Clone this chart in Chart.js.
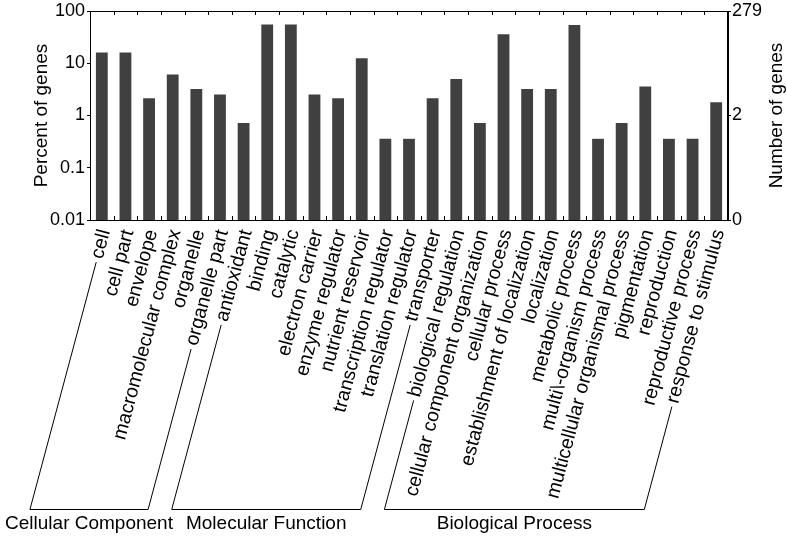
<!DOCTYPE html>
<html>
<head>
<meta charset="utf-8">
<script src="https://cdn.jsdelivr.net/npm/chart.js@4/dist/chart.umd.min.js"></script>
<style>
  html, body { margin: 0; padding: 0; background: #fff; }
</style>
</head>
<body>
<canvas id="goChart" width="787" height="539"></canvas>
<script>
// GO categories, in plot order
const categories = [
    'cell', 'cell part', 'envelope', 'macromolecular complex', 'organelle', 'organelle part',
    'antioxidant', 'binding', 'catalytic', 'electron carrier', 'enzyme regulator',
    'nutrient reservoir', 'transcription regulator', 'translation regulator', 'transporter',
    'biological regulation', 'cellular component organization', 'cellular process',
    'establishment of localization', 'localization', 'metabolic process',
    'multi\\-organism process', 'multicellular organismal process', 'pigmentation',
    'reproduction', 'reproductive process', 'response to stimulus'
];

// percent of genes
const percentGenes = [
    16.1, 16.1, 2.15, 6.09, 3.23, 2.51,
    0.717, 55.2, 55.2, 2.51, 2.15, 12.5, 0.358, 0.358, 2.15,
    5.02, 0.717, 35.8, 3.23, 3.23, 53.8, 0.358, 0.717, 3.58, 0.358, 0.358, 1.79
];

const leftTicks = [0.01, 0.1, 1, 10, 100];
const leftTickLabels = ['0.01', '0.1', '1', '10', '100'];
const rightTicks = [0.01, 1, 100];
const rightTickLabels = ['0', '2', '279'];

// ontology groups: first and last category index of each
const groupNames = ['Cellular Component', 'Molecular Function', 'Biological Process'];
const groupFirst = [0, 6, 15];
const groupLast = [5, 14, 26];

const FONT = "'Liberation Sans', Arial, sans-serif";
const LABEL_ANGLE = 75;

// frame, inside ticks, right title and group brackets
const decorPlugin = {
    id: 'decor',
    afterDraw(chart) {
        const ctx = chart.ctx;
        const area = chart.chartArea;
        const xs = chart.scales.x;
        ctx.save();
        ctx.strokeStyle = '#000';
        ctx.fillStyle = '#000';
        ctx.lineWidth = 1;

        // box round the plot
        ctx.strokeRect(Math.round(area.left) + 0.5, Math.round(area.top) + 0.5,
            Math.round(area.right - area.left) - 1, Math.round(area.bottom - area.top));

        // small ticks between categories, pointing in
        ctx.beginPath();
        for (let i = 1; i < categories.length; i++) {
            const bx = Math.round((xs.getPixelForTick(i - 1) + xs.getPixelForTick(i)) / 2) + 0.5;
            ctx.moveTo(bx, area.top);
            ctx.lineTo(bx, area.top + 4);
            ctx.moveTo(bx, area.bottom);
            ctx.lineTo(bx, area.bottom - 4);
        }
        ctx.stroke();

        // right axis title, reading upward
        ctx.font = '19px ' + FONT;
        ctx.textAlign = 'center';
        ctx.textBaseline = 'middle';
        ctx.save();
        ctx.translate(777, (area.top + area.bottom) / 2);
        ctx.rotate(-Math.PI / 2);
        ctx.fillText('Number of genes', 0, 0);
        ctx.restore();

        // brackets: continue the first/last label of each group down to a common line
        const items = xs.getLabelItems();
        const bracketY = chart.height - 29.5;
        function lineFrom(i) {
            const it = items[i];
            const [tx, ty] = it.options.translation;
            const r = it.options.rotation;
            ctx.font = it.font.string;
            const w = ctx.measureText(it.label).width + 4;
            const cos = Math.cos(r), sin = Math.sin(r);
            const x0 = tx + (-w) * cos - it.textOffset * sin;
            const y0 = ty + (-w) * sin + it.textOffset * cos;
            // direction pointing back along the text (down-left)
            const dx = -cos, dy = -sin;
            const t = (bracketY - y0) / dy;
            return [x0, y0, x0 + dx * t];
        }
        ctx.beginPath();
        const mids = [];
        groupNames.forEach((name, g) => {
            const a = lineFrom(groupFirst[g]);
            const b = lineFrom(groupLast[g]);
            ctx.moveTo(a[0], a[1]);
            ctx.lineTo(a[2], bracketY);
            ctx.lineTo(b[2], bracketY);
            ctx.lineTo(b[0], b[1]);
            mids.push((a[2] + b[2]) / 2);
        });
        ctx.stroke();
        ctx.font = '19px ' + FONT;
        ctx.textAlign = 'center';
        ctx.textBaseline = 'middle';
        groupNames.forEach((name, g) => ctx.fillText(name, mids[g], chart.height - 15));
        ctx.restore();
    }
};

const ctx = document.getElementById('goChart').getContext('2d');
const goChart = new Chart(ctx, {
    type: 'bar',
    data: {
        labels: categories,
        datasets: [{
            label: 'Percent of genes',
            data: percentGenes,
            backgroundColor: '#404040',
            borderWidth: 0,
            barPercentage: 0.5,
            categoryPercentage: 1.0,
            yAxisID: 'y'
        }]
    },
    options: {
        responsive: false,
        animation: false,
        devicePixelRatio: 1,
        layout: { padding: 0 },
        scales: {
            x: {
                type: 'category',
                grid: { display: false },
                border: { display: false },
                ticks: {
                    autoSkip: false,
                    minRotation: LABEL_ANGLE,
                    maxRotation: LABEL_ANGLE,
                    padding: -1,
                    labelOffset: 3,
                    color: '#000',
                    font: { family: FONT, size: 19.5 }
                },
                afterFit: (scale) => { scale.height = 319; }
            },
            y: {
                type: 'logarithmic',
                position: 'left',
                min: 0.01,
                max: 100,
                afterBuildTicks: (scale) => { scale.ticks = leftTicks.map(v => ({ value: v })); },
                grid: { drawOnChartArea: false, tickLength: 3, color: '#000' },
                border: { display: true, color: '#000' },
                ticks: {
                    padding: 2,
                    color: '#000',
                    font: { family: FONT, size: 18, lineHeight: 1 },
                    callback: (value, index) => leftTickLabels[index]
                },
                title: {
                    display: true,
                    text: 'Percent of genes',
                    color: '#000',
                    font: { family: FONT, size: 19 },
                    padding: { top: 30, bottom: 0 }
                },
                afterFit: (scale) => { scale.width = 90; }
            },
            y2: {
                type: 'logarithmic',
                position: 'right',
                min: 0.01,
                max: 100,
                afterBuildTicks: (scale) => { scale.ticks = rightTicks.map(v => ({ value: v })); },
                grid: { drawOnChartArea: false, tickLength: 3, color: '#000' },
                border: { display: true, color: '#000' },
                ticks: {
                    padding: 1,
                    color: '#000',
                    font: { family: FONT, size: 18, lineHeight: 1 },
                    callback: (value, index) => rightTickLabels[index]
                },
                afterFit: (scale) => { scale.width = 59; }
            }
        },
        plugins: {
            legend: { display: false },
            tooltip: { enabled: false }
        }
    },
    plugins: [decorPlugin]
});
</script>
</body>
</html>
